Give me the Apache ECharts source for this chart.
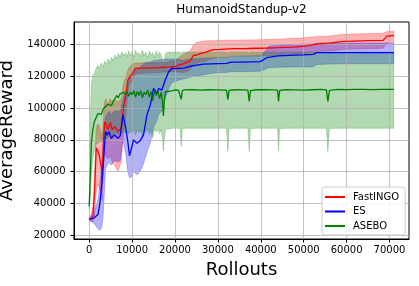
<!DOCTYPE html>
<html>
<head>
<meta charset="utf-8">
<script src="https://cdn.jsdelivr.net/npm/echarts@6/dist/echarts.min.js"></script>
<style>
html,body{margin:0;padding:0;background:#fff;}
#chart{width:419px;height:286px;}
</style>
</head>
<body>
<div id="chart"></div>
<script>
// ---------- DATA ----------
const seriesNames = ['FastINGO', 'ES', 'ASEBO'];
const xTicks = [0, 10000, 20000, 30000, 40000, 50000, 60000, 70000];
const yTicks = [20000, 40000, 60000, 80000, 100000, 120000, 140000];

// FastINGO
const fastX = [0, 500, 850, 1240, 1630, 2000, 2400, 2800, 3000, 3300,
  3570, 3900, 4350, 4900, 5360, 5900, 6690, 7460, 8000, 8620,
  9000, 9390, 9950, 10720, 12000, 14000, 16000, 18000, 18900, 20000,
  22000, 23500, 24300, 25100, 25900, 27400, 28900, 30500, 33600, 37000,
  41400, 44000, 47600, 50000, 53800, 56000, 59200, 62000, 65000, 68500,
  69400, 71000];
const fastMean = [30000, 30500, 32000, 46600, 75000, 73000, 69500, 63000, 55000, 78000,
  91500, 90000, 86300, 91000, 86300, 88300, 85200, 87300, 100900, 109300,
  117600, 119700, 121000, 125000, 125200, 125400, 125600, 125900, 126000, 126300,
  128100, 129700, 133300, 133500, 134300, 135400, 136900, 137000, 137500, 137600,
  137900, 138100, 138500, 139000, 140600, 141000, 142100, 142300, 142500, 142700,
  145400, 145800];
const fastLow = [29000, 28500, 28500, 32000, 47000, 52000, 50000, 46000, 42000, 60000,
  72000, 70000, 68000, 70000, 66000, 64000, 60000, 66000, 84000, 98000,
  110000, 115000, 117000, 121500, 122000, 122300, 122500, 122800, 123000, 123000,
  122500, 124000, 128000, 128500, 129000, 130000, 131500, 132000, 133000, 133000,
  133000, 133300, 133800, 134300, 135800, 136000, 137000, 137300, 137500, 137700,
  141000, 141500];
const fastHigh = [31000, 33000, 38000, 60000, 88000, 90000, 89000, 84000, 80000, 94000,
  104000, 106000, 102000, 106000, 103000, 105000, 104000, 106000, 116000, 120000,
  124000, 126000, 127500, 128500, 128500, 128600, 128800, 129000, 129500, 130000,
  134000, 136000, 140000, 141500, 142000, 142500, 142500, 142800, 142800, 143000,
  143200, 143500, 144000, 144300, 145300, 145500, 146500, 146800, 147000, 147200,
  148300, 148500];

// ES
const esX = [0, 500, 1240, 2030, 2400, 2800, 3190, 3500, 3800, 4200,
  4590, 5130, 5900, 6690, 7230, 7850, 8460, 9000, 9390, 9950,
  10330, 11100, 11890, 12660, 13450, 14220, 15000, 15780, 16150, 16920,
  17700, 18480, 19250, 20050, 22000, 23500, 26600, 30000, 32100, 33000,
  36000, 39900, 41400, 41800, 44000, 46900, 50000, 52200, 53000, 56000,
  60000, 65000, 71000];
const esMean = [30000, 30200, 31000, 33000, 38200, 48000, 61200, 74000, 85200, 83000,
  85200, 81000, 83100, 81000, 82500, 95700, 88300, 78900, 70000, 75800,
  80000, 77900, 79500, 83100, 95700, 101900, 112400, 109300, 112400, 111400,
  117600, 122800, 125000, 125000, 125200, 126400, 127800, 128100, 128200, 129000,
  129000, 129300, 131800, 132600, 133000, 133300, 133600, 133900, 135000, 135000,
  135000, 135000, 135000];
const esLow = [29000, 28500, 27000, 24000, 23000, 24000, 30000, 45000, 62000, 64000,
  66000, 64000, 67000, 66000, 67000, 80000, 72000, 60000, 56000, 57000,
  60000, 58000, 60000, 65000, 72000, 78000, 88000, 92000, 96000, 98000,
  106000, 112000, 116000, 117000, 118500, 119500, 121000, 122500, 122500, 123000,
  123000, 123300, 125000, 125500, 125800, 126000, 126000, 126000, 127500, 127800,
  128000, 128000, 128000];
const esHigh = [31000, 32000, 35000, 42000, 50000, 60000, 75000, 86000, 95000, 96000,
  98000, 96000, 98000, 98000, 98000, 105000, 110000, 115000, 118000, 122000,
  124000, 124000, 126000, 128000, 129000, 129000, 130000, 130000, 130500, 130500,
  131000, 131000, 131000, 131000, 130000, 131000, 131500, 131800, 132000, 132500,
  132800, 133000, 137000, 139000, 139500, 140000, 140300, 140500, 141000, 141000,
  141000, 141000, 141000];

// ASEBO
const asX = [0, 300, 500, 800, 1200, 1600, 2000, 2400, 2800, 3200,
  3600, 4000, 4400, 4800, 5200, 5600, 6000, 6400, 6800, 7200,
  7600, 8000, 8400, 8800, 9200, 9600, 10000, 10400, 10800, 11200,
  11600, 12000, 12400, 12800, 13200, 13600, 14000, 14400, 14800, 15200,
  15600, 16000, 16400, 16800, 17100, 17300, 17500, 17800, 18200, 18600,
  19000, 19500, 20000, 20800, 21200, 21450, 21700, 22200, 24000, 26000,
  28000, 30000, 32000, 32330, 32600, 34000, 36000, 37000, 37300, 37600,
  39000, 41000, 43000, 43900, 44130, 44400, 46000, 48000, 50000, 52000,
  54000, 55300, 55640, 56000, 58000, 60000, 62000, 64000, 66000, 68000,
  70000, 71000];
const asMean = [38000, 62000, 78000, 86000, 91500, 94000, 96500, 97500, 96000, 99000,
  100500, 99500, 102500, 103000, 101500, 104500, 106000, 108000, 106500, 109000,
  108000, 110000, 108500, 110500, 107500, 110000, 108500, 111000, 107000, 110500,
  108000, 111000, 106500, 110000, 108500, 111500, 107000, 110500, 104500, 111000,
  108000, 110500, 106000, 110000, 103000, 95000, 104000, 110500, 111000, 110500,
  111200, 111000, 111500, 111300, 111000, 105500, 111000, 111500, 111600, 111400,
  111600, 111500, 111400, 105300, 111200, 111600, 111500, 111300, 104200, 111000,
  111600, 111700, 111500, 111300, 104300, 111200, 111600, 111500, 111400, 111600,
  111800, 111500, 104300, 111200, 111800, 111700, 111800, 111800, 111700, 111800,
  111800, 111800];
const asLow = [36000, 45000, 58000, 68000, 74000, 77000, 78000, 79500, 78500, 80500,
  81000, 80500, 82500, 82000, 81000, 83000, 83500, 84500, 83000, 85000,
  84000, 85500, 84500, 86000, 83500, 85500, 84500, 86500, 83000, 86000,
  84500, 86500, 82000, 86000, 85000, 87000, 83500, 86500, 81000, 87000,
  85000, 86500, 84000, 86500, 80000, 73000, 80000, 86500, 87000, 87000,
  87200, 87300, 87300, 87300, 87200, 75800, 87200, 87300, 87300, 87300,
  87300, 87300, 87300, 72700, 87200, 87300, 87300, 87300, 72700, 87200,
  87300, 87300, 87300, 87300, 73300, 87200, 87300, 87300, 87300, 87300,
  87300, 87300, 72700, 87200, 87300, 87300, 87300, 87300, 87300, 87300,
  87300, 87300];
const asHigh = [40000, 95000, 115000, 120000, 122000, 125000, 127000, 125000, 128500, 126000,
  129500, 127500, 131000, 128500, 132000, 130000, 133500, 131000, 134500, 132000,
  135500, 133000, 135000, 132500, 136000, 133000, 135500, 132000, 136500, 133500,
  135000, 132500, 136500, 133000, 135500, 131500, 136000, 133500, 135000, 132000,
  136000, 133000, 135500, 133000, 130000, 126000, 130000, 134500, 135000, 135200,
  135300, 135200, 135300, 135300, 135300, 134000, 135300, 135300, 135300, 135300,
  135300, 135300, 135300, 134000, 135300, 135300, 135300, 135300, 134000, 135300,
  135300, 135300, 135300, 135300, 134000, 135300, 135300, 135300, 135300, 135300,
  135300, 135300, 134000, 135300, 135300, 135300, 135300, 135300, 135300, 135300,
  135300, 135300];

// ---------- CHART ----------
const colors = ['#ff0000', '#0000ff', '#008000'];
const fills = ['rgba(255,0,0,0.3)', 'rgba(0,0,255,0.3)', 'rgba(0,128,0,0.3)'];
const groups = [
  [fastX, fastMean, fastLow, fastHigh],
  [esX, esMean, esLow, esHigh],
  [asX, asMean, asLow, asHigh]
];
const FONT = 'DejaVu Sans';

const series = [];
groups.forEach((g, k) => {
  const [xs, m, lo, hi] = g;
  series.push({
    type: 'custom', name: seriesNames[k] + '_band', silent: true, z: 1,
    data: [[xs[0], lo[0]]],
    renderItem: function (params, api) {
      const pts = [];
      for (let i = 0; i < xs.length; i++) pts.push(api.coord([xs[i], hi[i]]));
      for (let i = xs.length - 1; i >= 0; i--) pts.push(api.coord([xs[i], lo[i]]));
      return {
        type: 'polygon',
        shape: { points: pts },
        style: { fill: fills[k], stroke: fills[k], lineWidth: 0.8 }
      };
    }
  });
});
groups.forEach((g, k) => {
  const [xs, m] = g;
  series.push({
    type: 'line', name: seriesNames[k],
    data: xs.map((x, i) => [x, m[i]]),
    symbol: 'none', z: 3,
    itemStyle: { color: colors[k] },
    lineStyle: { color: colors[k], width: 1.3 }
  });
});

const chart = echarts.init(document.getElementById('chart'), null, { renderer: 'canvas' });
chart.setOption({
  animation: false,
  backgroundColor: '#fff',
  title: {
    text: 'HumanoidStandup-v2',
    left: 241.5, top: 4, padding: 0, textAlign: 'center',
    textStyle: { fontFamily: FONT, fontSize: 12, fontWeight: 'normal', color: '#000' }
  },
  grid: {
    left: 74, right: 10, top: 22, bottom: 47,
    containLabel: false, outerBoundsMode: 'none',
    show: true, borderColor: '#000', borderWidth: 1, backgroundColor: 'transparent'
  },
  legend: {
    data: seriesNames,
    orient: 'vertical',
    left: 322, top: 187,
    padding: [4, 6, 3, 3],
    icon: 'rect', itemWidth: 20, itemHeight: 2, itemGap: 2.5,
    borderColor: '#cccccc', borderWidth: 1, borderRadius: 3,
    backgroundColor: 'rgba(255,255,255,0.85)',
    textStyle: { fontFamily: FONT, fontSize: 10, color: '#000', lineHeight: 12, padding: [0, 0, 0, 3] },
    z: 10
  },
  xAxis: {
    type: 'value', min: -3550, max: 74550, z: 1.5,
    name: 'Rollouts', nameLocation: 'middle', nameGap: 22,
    nameTextStyle: { fontFamily: FONT, fontSize: 18, color: '#000' },
    axisLine: { show: true, onZero: false, lineStyle: { color: '#000', width: 1 } },
    axisTick: { show: true, length: 3.5, lineStyle: { color: '#000' }, customValues: xTicks },
    axisLabel: { fontFamily: FONT, fontSize: 10, color: '#000', margin: 6, customValues: xTicks,
      formatter: function (v) { return String(v); } },
    splitLine: { show: true, lineStyle: { color: '#b0b0b0', width: 0.8 } }
  },
  yAxis: {
    type: 'value', min: 17500, max: 154300, z: 1.5,
    name: 'AverageReward', nameLocation: 'middle', nameGap: 50,
    nameTextStyle: { fontFamily: FONT, fontSize: 18, color: '#000' },
    axisLine: { show: true, onZero: false, lineStyle: { color: '#000', width: 1 } },
    axisTick: { show: true, length: 3.5, lineStyle: { color: '#000' }, customValues: yTicks },
    axisLabel: { fontFamily: FONT, fontSize: 10, color: '#000', margin: 8.5, customValues: yTicks,
      formatter: function (v) { return String(v); } },
    splitLine: { show: true, lineStyle: { color: '#b0b0b0', width: 0.8 } }
  },
  series: series
});
</script>
</body>
</html>
